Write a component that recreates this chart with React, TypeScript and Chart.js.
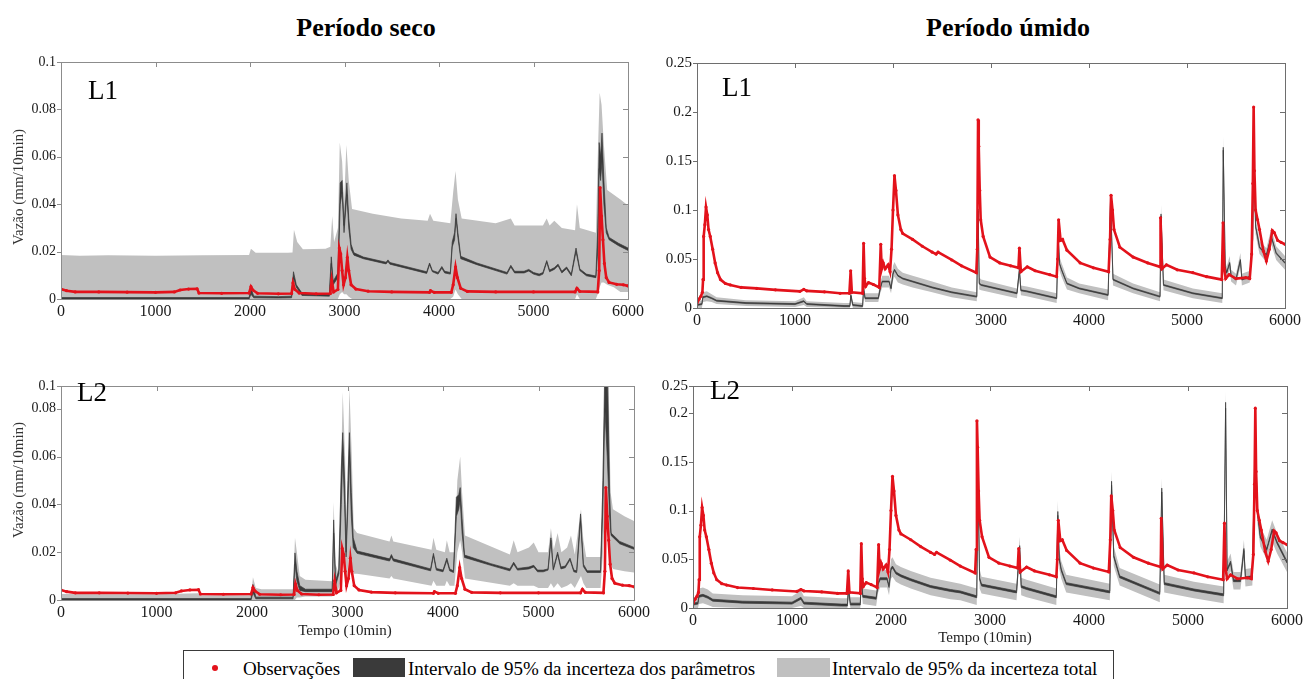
import React, { useEffect, useRef } from "react";
import { Chart, registerables } from "chart.js";

Chart.register(...registerables);

type Pt = [number, number];
type Band = [number, number, number];

const SERIF = '"Liberation Serif", "Times New Roman", serif';
const RED = "#e3121b";
const PARAM_COLOR = "#3a3a3a";
const TOTAL_COLOR = "#c0c0c0";

// ---- axes ----
const xTicks = [0, 1000, 2000, 3000, 4000, 5000, 6000];
const xTickLabels = ["0", "1000", "2000", "3000", "4000", "5000", "6000"];
const yTicksSecoL1 = [0, 0.02, 0.04, 0.06, 0.08, 0.1];
const yLabelsSecoL1 = ["0", "0.02", "0.04", "0.06", "0.08", "0.1"];
const yTicksSecoL2 = [0, 0.02, 0.04, 0.06, 0.08, 0.0895];
const yLabelsSecoL2 = ["0", "0.02", "0.04", "0.06", "0.08", "0.1"];
const yTicksUmidoL1 = [0, 0.05, 0.1, 0.15, 0.2, 0.25];
const yLabelsUmidoL1 = ["0", "0.05", "0.1", "0.15", "0.2", "0.25"];
const yTicksUmidoL2 = [0, 0.05, 0.1, 0.15, 0.2, 0.2277];
const yLabelsUmidoL2 = ["0", "0.05", "0.1", "0.15", "0.2", "0.25"];

// ---- observations (same for L1 and L2) ----
const obsSeco: Pt[] = [
  [0, 0.0042], [60, 0.0035], [150, 0.003], [400, 0.003], [700, 0.0029], [1000, 0.0028], [1200, 0.003],
  [1260, 0.0038], [1350, 0.0042], [1440, 0.0043], [1460, 0.0025], [1700, 0.0024], [1990, 0.0025],
  [2010, 0.0052], [2030, 0.0038], [2080, 0.0024], [2300, 0.0022], [2440, 0.0023], [2455, 0.0068],
  [2475, 0.004], [2520, 0.0025], [2700, 0.0022], [2850, 0.0023], [2865, 0.008], [2885, 0.003],
  [2930, 0.004], [2945, 0.0215], [2960, 0.019], [2975, 0.012], [2990, 0.006], [3010, 0.009],
  [3030, 0.0175], [3045, 0.012], [3070, 0.006], [3120, 0.0042], [3250, 0.0033], [3500, 0.003],
  [3900, 0.0028], [3910, 0.0035], [3950, 0.0028], [4130, 0.0028], [4150, 0.006], [4175, 0.0135],
  [4195, 0.009], [4230, 0.0045], [4300, 0.0032], [4600, 0.003], [5000, 0.003], [5440, 0.003],
  [5460, 0.0045], [5490, 0.0032], [5680, 0.003], [5695, 0.012], [5705, 0.047], [5720, 0.035],
  [5735, 0.025], [5750, 0.015], [5770, 0.009], [5800, 0.007], [5880, 0.0062], [5950, 0.006], [6000, 0.0055],
];

const obsUmido: Pt[] = [
  [0, 0.005], [20, 0.009], [40, 0.012], [55, 0.016], [62, 0.029], [68, 0.073], [80, 0.085], [92, 0.103],
  [105, 0.095], [118, 0.08], [135, 0.073], [160, 0.06], [185, 0.046], [210, 0.036], [240, 0.029],
  [290, 0.025], [340, 0.0235], [450, 0.021], [610, 0.02], [800, 0.0185], [1050, 0.017], [1090, 0.019],
  [1120, 0.0175], [1300, 0.0165], [1460, 0.015], [1555, 0.015], [1568, 0.038], [1580, 0.016],
  [1690, 0.015], [1700, 0.066], [1710, 0.03], [1720, 0.022], [1750, 0.026], [1800, 0.024], [1860, 0.021],
  [1875, 0.065], [1885, 0.04], [1900, 0.046], [1920, 0.04], [1950, 0.044], [1970, 0.037], [1985, 0.06],
  [2000, 0.1], [2015, 0.135], [2030, 0.12], [2050, 0.095], [2080, 0.08], [2100, 0.076], [2200, 0.07],
  [2300, 0.063], [2400, 0.057], [2440, 0.055], [2460, 0.057], [2600, 0.049], [2700, 0.043], [2850, 0.036],
  [2860, 0.06], [2868, 0.192], [2875, 0.165], [2885, 0.12], [2895, 0.09], [2920, 0.073], [2990, 0.052],
  [3090, 0.046], [3200, 0.043], [3280, 0.041], [3290, 0.061], [3305, 0.037], [3370, 0.042], [3450, 0.038],
  [3600, 0.034], [3670, 0.032], [3680, 0.05], [3690, 0.09], [3710, 0.069], [3730, 0.07], [3775, 0.059],
  [3910, 0.046], [4045, 0.041], [4200, 0.037], [4215, 0.07], [4225, 0.115], [4240, 0.1], [4255, 0.08],
  [4315, 0.062], [4450, 0.052], [4600, 0.046], [4725, 0.042], [4730, 0.092], [4745, 0.04], [4790, 0.044],
  [4900, 0.039], [5060, 0.036], [5200, 0.032], [5355, 0.029], [5368, 0.087], [5380, 0.04], [5395, 0.03],
  [5430, 0.034], [5500, 0.03], [5600, 0.031], [5640, 0.03], [5660, 0.055], [5672, 0.127], [5680, 0.205],
  [5688, 0.14], [5700, 0.1], [5720, 0.09], [5740, 0.08], [5780, 0.058], [5810, 0.048], [5840, 0.06],
  [5870, 0.079], [5890, 0.077], [5925, 0.069], [5960, 0.067], [6000, 0.065],
];

// ---- Período seco, L1 ----  [x, lower, upper]
const totalSecoL1: Band[] = [
  [0, 0, 0.0186], [200, 0, 0.0182], [500, 0, 0.0185], [1000, 0, 0.0183], [1500, 0, 0.0185], [1990, 0, 0.0186],
  [2010, 0, 0.0212], [2060, 0, 0.0195], [2400, 0, 0.0195], [2450, 0, 0.0196], [2465, 0, 0.0292], [2500, 0, 0.024],
  [2560, 0, 0.021], [2800, 0, 0.0212], [2850, 0, 0.022], [2870, 0, 0.035], [2890, 0, 0.024], [2930, 0, 0.03],
  [2950, 0.002, 0.066], [2975, 0.003, 0.058], [2995, 0.002, 0.04], [3020, 0.002, 0.065], [3045, 0.001, 0.05],
  [3080, 0, 0.038], [3300, 0, 0.036], [3600, 0, 0.034], [3880, 0, 0.033], [3905, 0, 0.036], [3940, 0, 0.033],
  [4120, 0, 0.032], [4150, 0.001, 0.045], [4175, 0.004, 0.054], [4200, 0.002, 0.042], [4240, 0, 0.034],
  [4600, 0, 0.032], [4760, 0, 0.034], [4800, 0, 0.031], [5100, 0, 0.031], [5140, 0, 0.034], [5170, 0, 0.031],
  [5220, 0, 0.033], [5300, 0, 0.03], [5440, 0, 0.029], [5460, 0.002, 0.04], [5490, 0, 0.03], [5660, 0, 0.028],
  [5680, 0.002, 0.06], [5700, 0.005, 0.087], [5720, 0.007, 0.082], [5745, 0.007, 0.065], [5780, 0.006, 0.046],
  [5850, 0.005, 0.044], [5920, 0.003, 0.042], [6000, 0.003, 0.0395],
];
const paramSecoL1: Band[] = [
  [0, 0, 0.0006], [1990, 0, 0.0006], [2010, 0.002, 0.0046], [2040, 0.0005, 0.0012], [2300, 0.0004, 0.001],
  [2440, 0.0005, 0.0012], [2460, 0.009, 0.0115], [2490, 0.005, 0.006], [2550, 0.0015, 0.0025], [2840, 0.0012, 0.002],
  [2860, 0.015, 0.0178], [2880, 0.006, 0.0075], [2930, 0.009, 0.011], [2955, 0.04, 0.049], [2975, 0.045, 0.05],
  [2995, 0.028, 0.031], [3025, 0.044, 0.049], [3045, 0.03, 0.034], [3070, 0.021, 0.023], [3100, 0.0185, 0.0195],
  [3200, 0.017, 0.0177], [3440, 0.0148, 0.0155], [3460, 0.0158, 0.0165], [3480, 0.0147, 0.0154],
  [3870, 0.0108, 0.0115], [3900, 0.0145, 0.0152], [3930, 0.0115, 0.012], [3990, 0.0105, 0.0112],
  [4030, 0.013, 0.0137], [4060, 0.011, 0.0117], [4120, 0.0105, 0.0112], [4140, 0.022, 0.024], [4165, 0.025, 0.028],
  [4180, 0.034, 0.036], [4200, 0.026, 0.028], [4230, 0.017, 0.018], [4400, 0.0145, 0.0152], [4720, 0.0105, 0.0112],
  [4760, 0.0135, 0.0142], [4800, 0.011, 0.0117], [4900, 0.011, 0.0117], [4950, 0.0118, 0.0125], [5000, 0.0105, 0.0112],
  [5060, 0.0098, 0.0105], [5100, 0.0105, 0.0112], [5140, 0.0155, 0.0162], [5170, 0.0115, 0.0122], [5220, 0.0125, 0.0132],
  [5260, 0.014, 0.0147], [5300, 0.011, 0.0117], [5350, 0.0128, 0.0135], [5400, 0.0098, 0.0105], [5450, 0.02, 0.0215],
  [5490, 0.012, 0.0127], [5560, 0.0098, 0.0105], [5660, 0.009, 0.0097], [5680, 0.02, 0.03], [5695, 0.055, 0.066],
  [5710, 0.05, 0.06], [5725, 0.058, 0.07], [5745, 0.04, 0.05], [5770, 0.028, 0.03], [5800, 0.025, 0.026],
  [5900, 0.0225, 0.0235], [6000, 0.0205, 0.0215],
];

// ---- Período seco, L2 ----
const totalSecoL2: Band[] = [
  [0, 0, 0.0025], [500, 0, 0.0024], [1000, 0, 0.0024], [1440, 0, 0.0028], [1460, 0, 0.002], [1990, 0, 0.002],
  [2010, 0, 0.0095], [2040, 0, 0.005], [2100, 0, 0.0045], [2430, 0, 0.0045], [2450, 0, 0.026], [2470, 0.001, 0.02],
  [2500, 0.001, 0.01], [2560, 0.0015, 0.0085], [2840, 0.0015, 0.0078], [2855, 0.01, 0.041], [2875, 0.003, 0.015],
  [2900, 0.004, 0.012], [2930, 0.008, 0.05], [2950, 0.02, 0.087], [2975, 0.012, 0.06], [2990, 0.008, 0.03],
  [3020, 0.02, 0.089], [3045, 0.014, 0.06], [3065, 0.011, 0.03], [3100, 0.011, 0.028], [3440, 0.009, 0.0245],
  [3460, 0.01, 0.027], [3480, 0.009, 0.0245], [3880, 0.006, 0.021], [3900, 0.008, 0.026], [3930, 0.006, 0.021],
  [4020, 0.006, 0.02], [4040, 0.008, 0.025], [4070, 0.006, 0.02], [4120, 0.006, 0.02], [4150, 0.02, 0.05],
  [4180, 0.025, 0.06], [4200, 0.02, 0.045], [4230, 0.009, 0.027], [4700, 0.006, 0.019], [4740, 0.007, 0.025],
  [4780, 0.006, 0.02], [4900, 0.006, 0.022], [4950, 0.006, 0.024], [5000, 0.005, 0.02], [5100, 0.005, 0.02],
  [5130, 0.007, 0.03], [5160, 0.005, 0.021], [5200, 0.007, 0.028], [5240, 0.005, 0.02], [5300, 0.006, 0.022],
  [5340, 0.007, 0.027], [5380, 0.005, 0.019], [5445, 0.01, 0.038], [5470, 0.007, 0.025], [5500, 0.005, 0.018],
  [5650, 0.005, 0.018], [5675, 0.02, 0.06], [5700, 0.04, 0.1], [5730, 0.035, 0.1], [5755, 0.015, 0.045],
  [5780, 0.013, 0.038], [5900, 0.012, 0.035], [6000, 0.0115, 0.033],
];
const paramSecoL2: Band[] = [
  [0, 0, 0.0006], [1990, 0, 0.0006], [2010, 0.003, 0.0065], [2040, 0.0005, 0.0012], [2430, 0.0005, 0.0012],
  [2450, 0.015, 0.0197], [2470, 0.008, 0.012], [2500, 0.004, 0.006], [2560, 0.0035, 0.0045], [2840, 0.0035, 0.0045],
  [2855, 0.028, 0.0335], [2875, 0.006, 0.008], [2910, 0.011, 0.0125], [2935, 0.04, 0.055], [2950, 0.06, 0.07],
  [2970, 0.04, 0.05], [2985, 0.018, 0.02], [3005, 0.04, 0.05], [3020, 0.06, 0.07], [3040, 0.035, 0.045],
  [3060, 0.022, 0.026], [3100, 0.0195, 0.0205], [3440, 0.0163, 0.0172], [3460, 0.018, 0.019], [3480, 0.0163, 0.0172],
  [3870, 0.0122, 0.013], [3900, 0.0185, 0.0195], [3930, 0.0125, 0.0132], [4000, 0.0118, 0.0125], [4040, 0.0165, 0.0175],
  [4070, 0.0122, 0.013], [4110, 0.0115, 0.0122], [4140, 0.035, 0.043], [4165, 0.038, 0.044], [4180, 0.042, 0.047],
  [4200, 0.028, 0.034], [4225, 0.0178, 0.0188], [4500, 0.0145, 0.0152], [4700, 0.0122, 0.013], [4740, 0.015, 0.0158],
  [4780, 0.0125, 0.0132], [4900, 0.013, 0.0138], [4950, 0.0138, 0.0145], [4990, 0.0118, 0.0125], [5050, 0.0118, 0.0125],
  [5100, 0.0125, 0.013], [5130, 0.025, 0.026], [5155, 0.0125, 0.013], [5200, 0.019, 0.02], [5235, 0.013, 0.0138],
  [5280, 0.0135, 0.0142], [5330, 0.0168, 0.0175], [5370, 0.0118, 0.0125], [5400, 0.0115, 0.0122], [5440, 0.033, 0.036],
  [5470, 0.014, 0.015], [5510, 0.0115, 0.0122], [5650, 0.0115, 0.0122], [5675, 0.04, 0.05], [5695, 0.08, 0.1],
  [5720, 0.06, 0.1], [5745, 0.035, 0.045], [5760, 0.027, 0.028], [5850, 0.0235, 0.0245], [6000, 0.0212, 0.022],
];

// ---- Período úmido, L1 ----
const totalUmidoL1: Band[] = [
  [0, 0, 0.007], [50, 0, 0.008], [60, 0.006, 0.016], [100, 0.007, 0.017], [150, 0.006, 0.014], [200, 0.004, 0.011],
  [500, 0.002, 0.008], [1000, 0.001, 0.007], [1090, 0.003, 0.011], [1120, 0.001, 0.007], [1500, 0, 0.005],
  [1560, 0, 0.005], [1570, 0.008, 0.018], [1590, 0, 0.006], [1690, 0, 0.005], [1700, 0.014, 0.026],
  [1715, 0.006, 0.015], [1850, 0.006, 0.015], [1870, 0.015, 0.026], [1890, 0.021, 0.033], [1960, 0.021, 0.033],
  [1980, 0.015, 0.026], [2000, 0.028, 0.043], [2015, 0.032, 0.047], [2050, 0.026, 0.04], [2100, 0.024, 0.036],
  [2200, 0.021, 0.033], [2400, 0.016, 0.027], [2600, 0.011, 0.021], [2855, 0.007, 0.016], [2868, 0.09, 0.11],
  [2880, 0.019, 0.031], [2900, 0.018, 0.029], [3265, 0.01, 0.02], [3290, 0.032, 0.046], [3305, 0.013, 0.023],
  [3365, 0.012, 0.022], [3670, 0.005, 0.015], [3685, 0.064, 0.082], [3700, 0.038, 0.052], [3720, 0.032, 0.046],
  [3775, 0.019, 0.031], [3900, 0.015, 0.025], [4195, 0.008, 0.019], [4220, 0.1, 0.12], [4245, 0.023, 0.035],
  [4450, 0.015, 0.025], [4725, 0.007, 0.016], [4735, 0.085, 0.105], [4760, 0.018, 0.029], [5060, 0.01, 0.02],
  [5360, 0.005, 0.015], [5370, 0.15, 0.175], [5390, 0.035, 0.049], [5405, 0.03, 0.042], [5435, 0.039, 0.053],
  [5450, 0.027, 0.039], [5500, 0.023, 0.035], [5545, 0.042, 0.056], [5560, 0.023, 0.035], [5640, 0.026, 0.038],
  [5670, 0.062, 0.078], [5680, 0.15, 0.178], [5700, 0.075, 0.091], [5720, 0.065, 0.081], [5740, 0.055, 0.069],
  [5810, 0.047, 0.061], [5860, 0.065, 0.081], [5910, 0.049, 0.063], [6000, 0.039, 0.053],
];
const paramUmidoL1: Band[] = [
  [0, 0.0025, 0.0035], [50, 0.0035, 0.0045], [60, 0.0105, 0.0115], [100, 0.0115, 0.0125], [150, 0.0095, 0.0105],
  [200, 0.007, 0.008], [500, 0.0045, 0.0055], [1000, 0.0035, 0.0045], [1090, 0.0065, 0.0075], [1120, 0.0035, 0.0045],
  [1500, 0.0015, 0.0025], [1560, 0.0015, 0.0025], [1570, 0.0125, 0.0135], [1590, 0.0025, 0.0035], [1690, 0.0015, 0.0025],
  [1700, 0.0195, 0.0205], [1715, 0.0095, 0.0105], [1850, 0.0095, 0.0105], [1870, 0.0195, 0.0205], [1890, 0.0265, 0.0275],
  [1960, 0.0265, 0.0275], [1980, 0.0195, 0.0205], [2000, 0.0345, 0.0355], [2015, 0.0385, 0.0395], [2050, 0.0325, 0.0335],
  [2100, 0.0295, 0.0305], [2200, 0.0265, 0.0275], [2400, 0.0205, 0.0215], [2600, 0.0155, 0.0165], [2855, 0.0111, 0.0121],
  [2868, 0.099, 0.101], [2880, 0.0245, 0.0255], [2900, 0.023, 0.024], [3265, 0.0145, 0.0155], [3290, 0.0385, 0.0395],
  [3305, 0.0175, 0.0185], [3365, 0.0165, 0.0175], [3670, 0.0095, 0.0105], [3685, 0.0725, 0.0735], [3700, 0.0445, 0.0455],
  [3720, 0.0385, 0.0395], [3775, 0.0245, 0.0255], [3900, 0.0195, 0.0205], [4195, 0.0128, 0.0138], [4220, 0.109, 0.111],
  [4245, 0.0285, 0.0295], [4450, 0.0195, 0.0205], [4725, 0.0111, 0.0121], [4735, 0.094, 0.096], [4760, 0.023, 0.024],
  [5060, 0.0145, 0.0155], [5360, 0.0095, 0.0105], [5370, 0.161, 0.164], [5390, 0.0415, 0.0425], [5405, 0.0355, 0.0365],
  [5435, 0.0455, 0.0465], [5450, 0.0325, 0.0335], [5500, 0.0285, 0.0295], [5545, 0.0485, 0.0495], [5560, 0.0285, 0.0295],
  [5640, 0.0315, 0.0325], [5670, 0.0695, 0.0705], [5680, 0.163, 0.165], [5700, 0.0825, 0.0835], [5720, 0.0725, 0.0735],
  [5740, 0.0615, 0.0625], [5810, 0.0535, 0.0545], [5860, 0.0725, 0.0735], [5910, 0.0555, 0.0565], [6000, 0.0455, 0.0465],
];

// ---- Período úmido, L2 ----
const totalUmidoL2: Band[] = [
  [0, 0, 0.011], [50, 0, 0.012], [60, 0.004, 0.02], [100, 0.005, 0.021], [150, 0.003, 0.019], [200, 0.001, 0.015],
  [500, 0, 0.013], [1000, 0, 0.012], [1090, 0.002, 0.018], [1120, 0, 0.012], [1500, 0, 0.01], [1560, 0, 0.01],
  [1570, 0.011, 0.029], [1590, 0, 0.011], [1690, 0, 0.011], [1700, 0.021, 0.039], [1715, 0.004, 0.02],
  [1850, 0.002, 0.018], [1870, 0.016, 0.034], [1890, 0.021, 0.039], [1960, 0.021, 0.039], [1980, 0.013, 0.031],
  [2000, 0.03, 0.05], [2015, 0.032, 0.052], [2050, 0.027, 0.045], [2100, 0.024, 0.042], [2200, 0.02, 0.038],
  [2400, 0.013, 0.031], [2600, 0.009, 0.027], [2700, 0.008, 0.025], [2866, 0.003, 0.02], [2880, 0.115, 0.14],
  [2895, 0.02, 0.04], [2915, 0.015, 0.032], [3268, 0.008, 0.025], [3300, 0.053, 0.073], [3315, 0.013, 0.031],
  [3370, 0.011, 0.029], [3670, 0.003, 0.02], [3685, 0.085, 0.11], [3700, 0.04, 0.06], [3720, 0.03, 0.048],
  [3770, 0.016, 0.034], [4210, 0.008, 0.025], [4228, 0.115, 0.14], [4250, 0.043, 0.063], [4310, 0.023, 0.041],
  [4715, 0.006, 0.024], [4735, 0.108, 0.133], [4760, 0.016, 0.034], [5060, 0.01, 0.027], [5360, 0.005, 0.022],
  [5380, 0.195, 0.222], [5395, 0.03, 0.048], [5430, 0.038, 0.056], [5460, 0.019, 0.037], [5530, 0.019, 0.037],
  [5565, 0.05, 0.07], [5580, 0.022, 0.04], [5650, 0.023, 0.041], [5680, 0.17, 0.19], [5700, 0.088, 0.11],
  [5730, 0.063, 0.083], [5795, 0.05, 0.07], [5850, 0.068, 0.09], [5900, 0.056, 0.077], [6000, 0.037, 0.057],
];
const paramUmidoL2: Band[] = [
  [0, 0.003, 0.005], [50, 0.004, 0.006], [60, 0.011, 0.013], [100, 0.012, 0.014], [150, 0.01, 0.012],
  [200, 0.007, 0.009], [500, 0.005, 0.007], [1000, 0.004, 0.006], [1090, 0.009, 0.011], [1120, 0.004, 0.006],
  [1500, 0.002, 0.004], [1560, 0.002, 0.004], [1570, 0.019, 0.021], [1590, 0.003, 0.005], [1690, 0.003, 0.005],
  [1700, 0.029, 0.031], [1715, 0.011, 0.013], [1850, 0.009, 0.011], [1870, 0.024, 0.026], [1890, 0.029, 0.031],
  [1960, 0.029, 0.031], [1980, 0.021, 0.023], [2000, 0.039, 0.041], [2015, 0.041, 0.043], [2050, 0.035, 0.037],
  [2100, 0.032, 0.034], [2200, 0.028, 0.03], [2400, 0.021, 0.023], [2600, 0.017, 0.019], [2700, 0.0155, 0.0175],
  [2866, 0.0105, 0.0125], [2880, 0.126, 0.13], [2895, 0.029, 0.031], [2915, 0.0225, 0.0245], [3268, 0.0155, 0.0175],
  [3300, 0.062, 0.064], [3315, 0.021, 0.023], [3370, 0.019, 0.021], [3670, 0.0105, 0.0125], [3685, 0.095, 0.099],
  [3700, 0.049, 0.051], [3720, 0.038, 0.04], [3770, 0.024, 0.026], [4210, 0.0155, 0.0175], [4228, 0.126, 0.13],
  [4250, 0.052, 0.054], [4310, 0.031, 0.033], [4715, 0.014, 0.016], [4735, 0.119, 0.123], [4760, 0.024, 0.026],
  [5060, 0.0175, 0.0195], [5360, 0.0125, 0.0145], [5380, 0.205, 0.211], [5395, 0.038, 0.04], [5430, 0.046, 0.048],
  [5460, 0.027, 0.029], [5530, 0.027, 0.029], [5565, 0.059, 0.061], [5580, 0.03, 0.032], [5650, 0.031, 0.033],
  [5680, 0.18, 0.186], [5700, 0.099, 0.101], [5730, 0.072, 0.074], [5795, 0.059, 0.061], [5850, 0.079, 0.081],
  [5900, 0.066, 0.068], [6000, 0.046, 0.048],
];

type Rect = { l: number; t: number; r: number; b: number };

type PanelProps = {
  rect: Rect;
  obs: Pt[];
  total: Band[];
  param: Band[];
  yTicks: number[];
  yLabels: string[];
  yFontSize: number;
  frameColor: string;
};

const ML = 50;
const MT = 14;
const MR = 26;
const MB = 30;

function makeFramePlugin(color: string) {
  return {
    id: "frame",
    afterDatasetsDraw(chart: any) {
      const { ctx, chartArea: a, scales } = chart;
      ctx.save();
      ctx.strokeStyle = color;
      ctx.lineWidth = 1;
      ctx.strokeRect(Math.round(a.left) + 0.5, Math.round(a.top) + 0.5, Math.round(a.right - a.left), Math.round(a.bottom - a.top));
      const xs = scales.x;
      const ys = scales.y;
      ctx.beginPath();
      xs.ticks.forEach((t: any) => {
        const px = Math.round(xs.getPixelForValue(t.value)) + 0.5;
        ctx.moveTo(px, a.top);
        ctx.lineTo(px, a.top + 5);
      });
      ys.ticks.forEach((t: any) => {
        const py = Math.round(ys.getPixelForValue(t.value)) + 0.5;
        ctx.moveTo(a.right, py);
        ctx.lineTo(a.right - 5, py);
        ctx.moveTo(a.left, py);
        ctx.lineTo(a.left - 4, py);
      });
      ctx.stroke();
      ctx.restore();
    },
  };
}

function Panel({ rect, obs, total, param, yTicks, yLabels, yFontSize, frameColor }: PanelProps) {
  const ref = useRef<HTMLCanvasElement>(null);
  const w = rect.r - rect.l + ML + MR;
  const h = rect.b - rect.t + MT + MB;
  useEffect(() => {
    const chart = new Chart(ref.current as HTMLCanvasElement, {
      type: "line",
      data: {
        datasets: [
          {
            data: total.map((d) => ({ x: d[0], y: d[1] })),
            borderWidth: 0,
            borderColor: "rgba(0,0,0,0)",
            backgroundColor: TOTAL_COLOR,
            pointRadius: 0,
            fill: false,
            order: 3,
          },
          {
            data: total.map((d) => ({ x: d[0], y: d[2] })),
            borderWidth: 0,
            borderColor: "rgba(0,0,0,0)",
            backgroundColor: TOTAL_COLOR,
            pointRadius: 0,
            fill: "-1",
            order: 3,
          },
          {
            data: param.map((d) => ({ x: d[0], y: d[1] })),
            borderWidth: 0.7,
            borderColor: PARAM_COLOR,
            backgroundColor: PARAM_COLOR,
            pointRadius: 0,
            fill: false,
            order: 2,
          },
          {
            data: param.map((d) => ({ x: d[0], y: d[2] })),
            borderWidth: 0.7,
            borderColor: PARAM_COLOR,
            backgroundColor: PARAM_COLOR,
            pointRadius: 0,
            fill: "-1",
            order: 2,
          },
          {
            data: obs.map((d) => ({ x: d[0], y: d[1] })),
            showLine: true,
            borderWidth: 2.6,
            borderColor: RED,
            backgroundColor: RED,
            pointRadius: 1.6,
            pointBorderWidth: 0,
            pointBackgroundColor: RED,
            fill: false,
            order: 1,
          },
        ],
      },
      options: {
        animation: false,
        responsive: false,
        events: [],
        layout: { padding: { left: 0, top: MT, right: MR, bottom: 0 } },
        elements: { line: { tension: 0 } },
        plugins: {
          legend: { display: false },
          tooltip: { enabled: false },
          colors: { enabled: false },
        } as any,
        scales: {
          x: {
            type: "linear",
            min: 0,
            max: 6000,
            afterBuildTicks: (s: any) => {
              s.ticks = xTicks.map((v) => ({ value: v }));
            },
            afterFit: (s: any) => {
              s.height = MB;
            },
            ticks: {
              autoSkip: false,
              maxRotation: 0,
              padding: 3,
              color: "#1a1a1a",
              font: { family: SERIF, size: 16 },
              callback: (_v: any, i: number) => xTickLabels[i],
            },
            grid: { display: false, drawTicks: false },
            border: { display: false },
          },
          y: {
            type: "linear",
            min: 0,
            max: yTicks[yTicks.length - 1],
            afterBuildTicks: (s: any) => {
              s.ticks = yTicks.map((v) => ({ value: v }));
            },
            afterFit: (s: any) => {
              s.width = ML;
            },
            ticks: {
              autoSkip: false,
              padding: 5,
              color: "#1a1a1a",
              font: { family: SERIF, size: yFontSize },
              callback: (_v: any, i: number) => yLabels[i],
            },
            grid: { display: false, drawTicks: false },
            border: { display: false },
          },
        },
      } as any,
      plugins: [makeFramePlugin(frameColor)],
    });
    return () => chart.destroy();
  }, []);
  return (
    <canvas
      ref={ref}
      width={w}
      height={h}
      style={{ position: "absolute", left: rect.l - ML, top: rect.t - MT, width: w, height: h }}
    />
  );
}

const txt = (extra: React.CSSProperties): React.CSSProperties => ({
  position: "absolute",
  fontFamily: SERIF,
  whiteSpace: "nowrap",
  color: "#000",
  ...extra,
});

function PanelLabel({ text, left, baseline }: { text: string; left: number; baseline: number }) {
  return <div style={txt({ left, top: baseline - 22.6, fontSize: 27, lineHeight: "27px" })}>{text}</div>;
}

function YTitle({ cx, cy }: { cx: number; cy: number }) {
  return (
    <div
      style={txt({
        left: cx,
        top: cy,
        fontSize: 15,
        lineHeight: "15px",
        color: "#333",
        transform: "translate(-50%, -50%) rotate(-90deg)",
      })}
    >
      Vazão (mm/10min)
    </div>
  );
}

function XTitle({ cx, cy }: { cx: number; cy: number }) {
  return (
    <div style={txt({ left: cx, top: cy, fontSize: 15, lineHeight: "15px", color: "#222", transform: "translate(-50%, -50%)" })}>
      Tempo (10min)
    </div>
  );
}

export default function App() {
  return (
    <div
      style={{
        position: "absolute",
        left: 0,
        top: 0,
        width: 1303,
        height: 679,
        overflow: "hidden",
        background: "#fff",
      }}
    >
      <div style={txt({ left: 366, top: 28, fontSize: 26, lineHeight: "26px", fontWeight: "bold", transform: "translate(-50%, -50%)" })}>
        Período seco
      </div>
      <div style={txt({ left: 1008, top: 28, fontSize: 26, lineHeight: "26px", fontWeight: "bold", transform: "translate(-50%, -50%)" })}>
        Período úmido
      </div>

      <Panel
        rect={{ l: 61, t: 62, r: 628, b: 299 }}
        obs={obsSeco}
        total={totalSecoL1}
        param={paramSecoL1}
        yTicks={yTicksSecoL1}
        yLabels={yLabelsSecoL1}
        yFontSize={14}
        frameColor="#8c8c8c"
      />
      <Panel
        rect={{ l: 697, t: 63, r: 1285, b: 308 }}
        obs={obsUmido}
        total={totalUmidoL1}
        param={paramUmidoL1}
        yTicks={yTicksUmidoL1}
        yLabels={yLabelsUmidoL1}
        yFontSize={15}
        frameColor="#6e6e6e"
      />
      <Panel
        rect={{ l: 61, t: 386, r: 634, b: 600 }}
        obs={obsSeco}
        total={totalSecoL2}
        param={paramSecoL2}
        yTicks={yTicksSecoL2}
        yLabels={yLabelsSecoL2}
        yFontSize={14}
        frameColor="#8c8c8c"
      />
      <Panel
        rect={{ l: 693, t: 386, r: 1287, b: 608 }}
        obs={obsUmido}
        total={totalUmidoL2}
        param={paramUmidoL2}
        yTicks={yTicksUmidoL2}
        yLabels={yLabelsUmidoL2}
        yFontSize={15}
        frameColor="#6e6e6e"
      />

      <PanelLabel text="L1" left={88} baseline={100} />
      <PanelLabel text="L1" left={722} baseline={97} />
      <PanelLabel text="L2" left={77} baseline={402} />
      <PanelLabel text="L2" left={710} baseline={400} />

      <YTitle cx={18} cy={187} />
      <YTitle cx={18} cy={480} />
      <XTitle cx={345} cy={630} />
      <XTitle cx={985} cy={637} />

      <div
        style={{
          position: "absolute",
          left: 183,
          top: 650,
          width: 931,
          height: 40,
          border: "1.5px solid #3a3a3a",
          boxSizing: "border-box",
        }}
      />
      <div style={{ position: "absolute", left: 212, top: 665, width: 6, height: 6, borderRadius: 3, background: RED }} />
      <div style={txt({ left: 243, top: 659, fontSize: 19, lineHeight: "19px" })}>Observações</div>
      <div style={{ position: "absolute", left: 353, top: 658, width: 52, height: 19, background: PARAM_COLOR }} />
      <div style={txt({ left: 408, top: 659, fontSize: 19, lineHeight: "19px" })}>Intervalo de 95% da incerteza dos parâmetros</div>
      <div style={{ position: "absolute", left: 777, top: 658, width: 53, height: 19, background: TOTAL_COLOR }} />
      <div style={txt({ left: 832, top: 659, fontSize: 19, lineHeight: "19px" })}>Intervalo de 95% da incerteza total</div>
    </div>
  );
}
